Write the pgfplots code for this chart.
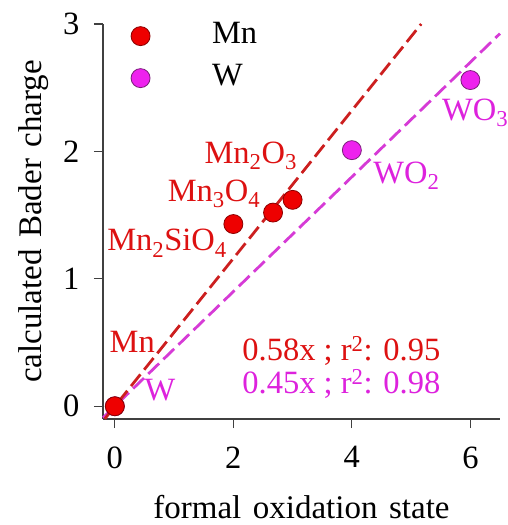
\documentclass[border=0pt]{standalone}
\usepackage{fontspec}
\setmainfont{Liberation Serif}
\newfontfamily\labelfont[WordSpace=1.4]{Liberation Serif}
\usepackage{pgfplots}
\pgfplotsset{compat=1.18}

\definecolor{mnfill}{HTML}{EE0000}
\definecolor{mnedge}{HTML}{8B0000}
\definecolor{mnline}{HTML}{CC1F1F}
\definecolor{mntext}{HTML}{DD1111}
\definecolor{wfill}{HTML}{EE22EE}
\definecolor{wedge}{HTML}{7A1F7A}
\definecolor{wline}{HTML}{D63BD6}
\definecolor{wtext}{HTML}{DD22DD}
\definecolor{spine}{HTML}{404040}

% Bader charge vs. formal oxidation state
\pgfplotstableread{
ox   q
0    0.00
2    1.43
2.67 1.52
3    1.62
}\mndata
\pgfplotstableread{
ox   q
0    0.00
4    2.01
6    2.56
}\wdata

\begin{document}
\begin{tikzpicture}[font=\fontsize{32.5bp}{38bp}\selectfont]
\useasboundingbox (0,0) rectangle (508bp,525bp);
\begin{axis}[
  at={(103bp,106bp)}, anchor=south west,
  scale only axis, width=397bp, height=395bp,
  xmin=-0.2, xmax=6.5, ymin=-0.1, ymax=3,
  xtick={0,2,4,6}, ytick={0,1,2,3},
  axis x line*=bottom, axis y line*=left,
  axis line style={-, draw=spine, line width=1.6bp},
  tick style={draw=spine, line width=1.2bp},
  major tick length=9bp, tick align=outside,
  /pgf/number format/assume math mode=true,
  ticklabel style={font=\fontsize{32.5bp}{38bp}\selectfont},
  xticklabel style={yshift=-15bp},
  yticklabel style={xshift=-11bp},
  xlabel={formal oxidation state},
  ylabel={calculated Bader charge},
  xlabel style={at={(axis description cs:0.5,-0.2507)}, anchor=base},
  ylabel style={at={(axis description cs:-0.1537,0.5)}, anchor=base, rotate=0},
  label style={font=\labelfont\fontsize{33bp}{38bp}\selectfont},
  clip=false,
  reverse legend,
  legend cell align=left,
  legend style={draw=none, fill=none, at={(axis cs:0.22,2.74)}, anchor=west,
    row sep=13bp, nodes={inner sep=0pt, text height=22bp, text depth=7bp},
    /tikz/every odd column/.style={column sep=62bp}},
  mnmark/.style={only marks, mark=*, mark size=9.5bp,
    mark options={fill=mnfill, draw=mnedge, line width=0.8bp},
    legend image code/.code={\draw[##1] plot coordinates {(0bp,0bp)};}},
  wmark/.style={only marks, mark=*, mark size=9.5bp,
    mark options={fill=wfill, draw=wedge, line width=0.8bp},
    legend image code/.code={\draw[##1] plot coordinates {(0bp,0bp)};}},
]
% linear fits through the origin
\addplot[wline, line width=2.8bp, dash pattern=on 15bp off 6bp, forget plot]
  coordinates {(-0.2,-0.09) (6.5,2.925)};
\addplot[mnline, line width=2.8bp, dash pattern=on 15bp off 6bp, forget plot]
  coordinates {(-0.17,-0.099) (5.17,3.0)};
% computed charges
\addplot[wmark] table[x=ox, y=q] {\wdata};
\addlegendentry{W}
\addplot[mnmark] table[x=ox, y=q] {\mndata};
\addlegendentry{Mn}

% compound labels
\begin{scope}[every node/.style={inner sep=0pt, anchor=base west}]
\node[mntext] at (axis cs:-0.09,0.424) {Mn};
\node[wtext]  at (axis cs:0.50,0.047) {W};
\node[mntext] at (axis cs:-0.13,1.22) {Mn\textsubscript{2}SiO\textsubscript{4}};
\node[mntext] at (axis cs:0.89,1.61) {Mn\textsubscript{3}O\textsubscript{4}};
\node[mntext] at (axis cs:1.51,1.907) {Mn\textsubscript{2}O\textsubscript{3}};
\node[wtext]  at (axis cs:4.36,1.75) {WO\textsubscript{2}};
\node[wtext]  at (axis cs:5.52,2.245) {WO\textsubscript{3}};
\node[mntext] at (axis cs:2.15,0.36) {0.58x ; r\textsuperscript{2}: 0.95};
\node[wtext]  at (axis cs:2.15,0.10) {0.45x ; r\textsuperscript{2}: 0.98};
\end{scope}
\end{axis}
\end{tikzpicture}
\end{document}
